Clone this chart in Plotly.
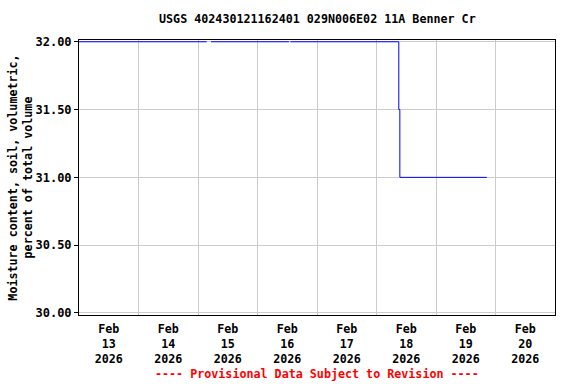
import plotly.graph_objects as go

# Data
times = [
    "2026-02-13 00:00", "2026-02-15 03:30", None,
    "2026-02-15 05:15", "2026-02-16 12:45", None,
    "2026-02-16 13:15", "2026-02-18 08:45", "2026-02-18 09:00",
    "2026-02-18 09:25", "2026-02-19 20:30",
]
moisture = [32.0, 32.0, None, 32.0, 32.0, None, 32.0, 32.0, 31.5, 31.0, 31.0]

x_tick_vals = ["2026-02-%02d 12:00" % d for d in range(13, 21)]
x_tick_text = ["Feb<br>%d<br>2026" % d for d in range(13, 21)]
y_tick_vals = [30.0, 30.5, 31.0, 31.5, 32.0]
y_tick_text = ["30.00", "30.50", "31.00", "31.50", "32.00"]

title_text = "USGS 402430121162401 029N006E02 11A Benner Cr"
y_title = "Moisture content, soil, volumetric,<br>percent of total volume"
footer = "---- Provisional Data Subject to Revision ----"

FONT = "DejaVu Sans Mono"

fig = go.Figure()
fig.add_trace(go.Scatter(
    x=times, y=moisture, mode="lines", line=dict(color="#0000ff", width=1, shape="hv"),
    connectgaps=False, hoverinfo="skip", showlegend=False,
))

fig.update_layout(
    width=576, height=384, autosize=False,
    margin=dict(l=79, r=21, t=40, b=69),
    paper_bgcolor="white", plot_bgcolor="white",
    font=dict(family=FONT, size=12, color="black", weight="bold"),
    title=dict(text=title_text, x=0.551, xanchor="center", y=0.951, yanchor="middle",
               font=dict(family=FONT, size=11.7, color="black", weight="bold")),
    showlegend=False,
)

fig.update_xaxes(
    type="date",
    range=["2026-02-13 00:00", "2026-02-21 00:00"],
    tickmode="array", tickvals=x_tick_vals, ticktext=x_tick_text,
    showgrid=False, ticks="", ticklabelstandoff=3,
    tickfont=dict(family=FONT, size=11.7, color="black", weight="bold"),
    minor=dict(tickmode="linear", tick0="2026-02-13", dtick=86400000,
               showgrid=True, gridcolor="#cccccc", gridwidth=1, ticks=""),
    showline=True, linecolor="black", linewidth=1, mirror=True,
    zeroline=False, fixedrange=True, automargin=False,
)

fig.update_yaxes(
    range=[29.985, 32.013],
    tickmode="array", tickvals=y_tick_vals, ticktext=y_tick_text,
    showgrid=True, gridcolor="#cccccc", gridwidth=1,
    ticks="outside", ticklen=4, tickcolor="black", tickwidth=1,
    tickfont=dict(family=FONT, size=12, color="black", weight="bold"),
    title=dict(text=y_title, standoff=0,
               font=dict(family=FONT, size=11.7, color="black", weight="bold")),
    showline=True, linecolor="black", linewidth=1, mirror=True,
    zeroline=False, fixedrange=True, automargin=False,
)

fig.add_annotation(
    text=footer, xref="paper", yref="paper", x=0.5, y=-0.215,
    xanchor="center", yanchor="middle", showarrow=False,
    font=dict(family=FONT, size=11.7, color="red", weight="bold"),
)

fig.write_html("out.html")
